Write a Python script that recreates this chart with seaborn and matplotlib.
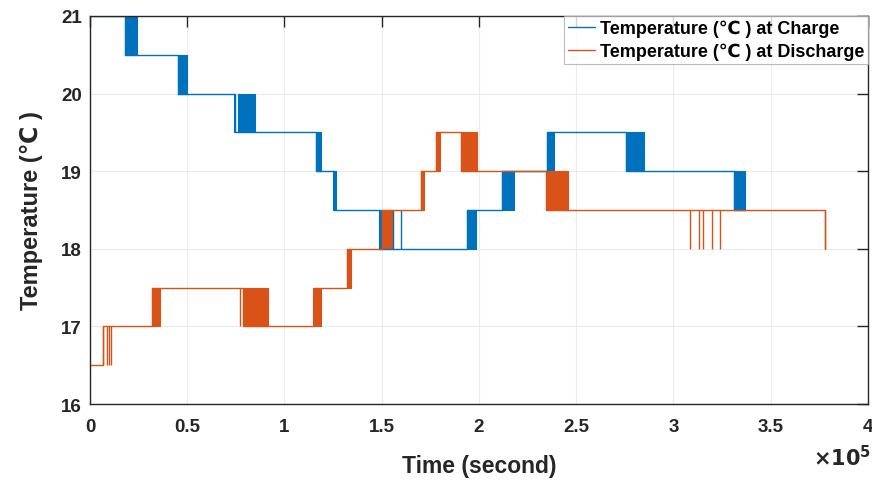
import matplotlib
matplotlib.use("Agg")
import matplotlib.pyplot as plt
from matplotlib.ticker import FuncFormatter
import seaborn as sns
import pandas as pd

# ---- data (time in units of 1e5 s, temperature in degC) ----
charge_time = [0, 0.18, 0.45, 0.745, 1.16, 1.255, 1.49, 1.94, 2.12, 2.35, 2.755, 3.31, 3.37]
charge_temp = [21, 20.5, 20, 19.5, 19, 18.5, 18, 18.5, 19, 19.5, 19, 18.5, 18.5]
# dense switching bands: (start, end, low, high)
charge_bands = [(0.18, 0.225, 20.5, 21), (0.232, 0.24, 20.5, 21),
                (0.45, 0.50, 20, 20.5), (0.74, 0.745, 19.5, 20),
                (0.76, 0.84, 19.5, 20), (0.845, 0.85, 19.5, 20),
                (1.16, 1.19, 19, 19.5), (1.25, 1.265, 18.5, 19),
                (1.485, 1.50, 18, 18.5), (1.94, 1.985, 18, 18.5),
                (2.12, 2.18, 18.5, 19), (2.35, 2.385, 19, 19.5),
                (2.755, 2.85, 19, 19.5), (3.31, 3.37, 18.5, 19)]
charge_spikes = [(1.56, 18, 18.5), (1.60, 18, 18.5)]

discharge_time = [0, 0.067, 0.32, 0.785, 1.15, 1.32, 1.50, 1.70, 1.78, 1.91, 2.345, 3.78, 3.78]
discharge_temp = [16.5, 17, 17.5, 17, 17.5, 18, 18.5, 19, 19.5, 19, 18.5, 18, 18]
discharge_bands = [(0.32, 0.36, 17, 17.5), (0.79, 0.915, 17, 17.5),
                   (1.145, 1.19, 17, 17.5), (1.32, 1.34, 17.5, 18),
                   (1.505, 1.56, 18, 18.5), (1.70, 1.715, 18.5, 19),
                   (1.78, 1.80, 19, 19.5), (1.91, 1.99, 19, 19.5),
                   (2.345, 2.35, 18.5, 19), (2.356, 2.457, 18.5, 19)]
discharge_spikes = [(0.067, 16.5, 17), (0.087, 16.5, 17), (0.098, 16.5, 17),
                    (0.108, 16.5, 17), (0.772, 17, 17.5),
                    (3.085, 18, 18.5), (3.13, 18, 18.5), (3.15, 18, 18.5),
                    (3.20, 18, 18.5), (3.24, 18, 18.5)]

x_ticks = [0, 0.5, 1, 1.5, 2, 2.5, 3, 3.5, 4]
y_ticks = [16, 17, 18, 19, 20, 21]

SCALE = 1e5
BLUE = "#0072BD"
ORANGE = "#D95319"
INK = "#262626"

sns.set_theme(style="white")
plt.rcParams["font.family"] = ["Liberation Sans", "DejaVu Sans"]
plt.rcParams["font.weight"] = "bold"

fig = plt.figure(figsize=(8.72, 4.81), dpi=100)
ax = fig.add_axes([0.1032, 0.158, 0.8922, 0.8069])

df_c = pd.DataFrame({"t": [t * SCALE for t in charge_time], "T": charge_temp})
df_d = pd.DataFrame({"t": [t * SCALE for t in discharge_time], "T": discharge_temp})

sns.lineplot(data=df_c, x="t", y="T", ax=ax, color=BLUE, lw=1.0,
             drawstyle="steps-post", estimator=None, sort=False,
             label="Temperature (\u2103 ) at Charge")
for s, e, lo, hi in charge_bands:
    ax.fill_between([s * SCALE, e * SCALE], [lo, lo], [hi, hi], color=BLUE, lw=0.8,
                    edgecolor=BLUE)
for t, lo, hi in charge_spikes:
    ax.vlines(t * SCALE, lo, hi, color=BLUE, lw=1.0)

sns.lineplot(data=df_d, x="t", y="T", ax=ax, color=ORANGE, lw=1.0,
             drawstyle="steps-post", estimator=None, sort=False,
             label="Temperature (\u2103 ) at Discharge")
ax.vlines(discharge_time[-1] * SCALE, discharge_temp[-1], discharge_temp[-3],
          color=ORANGE, lw=1.0)
for s, e, lo, hi in discharge_bands:
    ax.fill_between([s * SCALE, e * SCALE], [lo, lo], [hi, hi], color=ORANGE, lw=0.8,
                    edgecolor=ORANGE)
for t, lo, hi in discharge_spikes:
    ax.vlines(t * SCALE, lo, hi, color=ORANGE, lw=1.0)

ax.set_xlim(0, 4 * SCALE)
ax.set_ylim(16, 21)
ax.set_xticks([x * SCALE for x in x_ticks])
ax.xaxis.set_major_formatter(FuncFormatter(lambda v, p: f"{v / SCALE:g}"))
ax.set_yticks(y_ticks)

ax.grid(True, color="#ebebeb", lw=0.8)
for sp in ax.spines.values():
    sp.set_visible(True)
    sp.set_color(INK)
    sp.set_linewidth(1.0)
ax.tick_params(axis="both", which="both", direction="in", length=8, width=1.0,
               top=True, right=True, color=INK, labelsize=13.5,
               labelcolor=INK)
ax.tick_params(axis="x", pad=10)
ax.tick_params(axis="y", pad=6)
for lab in ax.get_xticklabels() + ax.get_yticklabels():
    lab.set_fontweight("bold")

ax.set_xlabel("Time (second)", fontsize=16.5, fontweight="bold", color=INK, labelpad=14)
ax.set_ylabel("Temperature (\u2103 )", fontsize=17, fontweight="bold", color=INK, labelpad=13)

fig.text(871 / 872, (481 - 458) / 481, r"$\times\mathbf{10}^{\mathbf{5}}$",
         ha="right", va="center", fontsize=15, color=INK)

leg = ax.legend(loc="upper right", frameon=True, fancybox=False,
                prop={"weight": "bold", "size": 13},
                handlelength=1.55, handletextpad=0.25, borderpad=0.2,
                labelspacing=0.33, borderaxespad=0.0)
leg.get_frame().set_edgecolor("#aaaaaa")
leg.get_frame().set_linewidth(0.8)
for line in leg.get_lines():
    line.set_linewidth(1.0)
for txt in leg.get_texts():
    txt.set_color("black")

fig.savefig("out.png", dpi=100, facecolor="white")
